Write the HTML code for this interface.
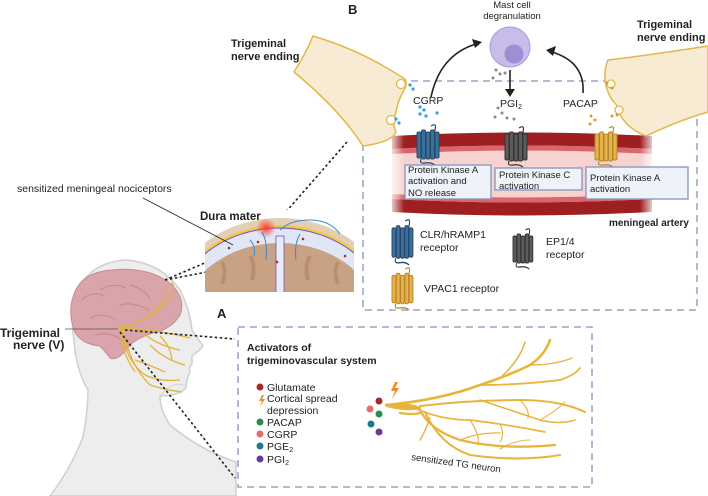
<!DOCTYPE html>
<html><head><meta charset="utf-8"><style>
html,body{margin:0;padding:0;background:#fff}
svg{display:block}
text{font-family:"Liberation Sans",Arial,sans-serif;fill:#222}
.b{font-weight:bold}
</style></head><body>
<svg width="708" height="496" viewBox="0 0 708 496" xmlns="http://www.w3.org/2000/svg">
<defs>
<g id="rec">
 <path d="M14 2 q6 -4 4 4 q-2 6 4 6" fill="none" stroke-width="1.2"/>
 <rect x="0" y="8" width="4" height="26" rx="1.5"/>
 <rect x="4.5" y="6" width="4" height="29" rx="1.5"/>
 <rect x="9" y="8" width="4" height="27" rx="1.5"/>
 <rect x="13.5" y="6" width="4" height="29" rx="1.5"/>
 <rect x="18" y="8" width="4" height="26" rx="1.5"/>
 <path d="M4 35 q-2 5 4 4 q6 -1 10 2" fill="none" stroke-width="1.2"/>
</g>
<linearGradient id="art" x1="0" x2="1" y1="0" y2="0">
 <stop offset="0" stop-color="#fff" stop-opacity="1"/>
 <stop offset="0.06" stop-color="#fff" stop-opacity="0"/>
 <stop offset="0.94" stop-color="#fff" stop-opacity="0"/>
 <stop offset="1" stop-color="#fff" stop-opacity="1"/>
</linearGradient>
<radialGradient id="red"><stop offset="0" stop-color="#ff3030" stop-opacity=".9"/><stop offset="1" stop-color="#ff3030" stop-opacity="0"/></radialGradient>
</defs>

<!-- Box B -->
<rect x="363" y="81" width="334" height="229" fill="none" stroke="#8593b8" stroke-width="1.3" stroke-dasharray="7,5"/>
<text x="348" y="14" class="b" font-size="13">B</text>

<!-- artery -->
<rect x="392" y="137" width="260" height="74" fill="#f6d3d0"/>
<path d="M392 136 Q520 129 652 136 L652 149 Q520 142 392 149Z" fill="#9e1f22"/>
<path d="M392 149 Q520 142 652 149 L652 154 Q520 147 392 154Z" fill="#d9666a"/>
<path d="M392 199 Q520 206 652 199 L652 212 Q520 219 392 212Z" fill="#9e1f22"/>
<path d="M392 194 Q520 201 652 194 L652 199 Q520 206 392 199Z" fill="#d9666a"/>
<rect x="388" y="128" width="268" height="94" fill="url(#art)"/>

<!-- nerve endings -->
<path d="M313 36 Q360 50 400 76 Q410 80 404 90 Q398 100 396 112 Q392 124 396 132 Q392 142 363 146 Q340 110 294 72 Q305 55 313 36Z" fill="#f7ecd3" stroke="#e3b64a" stroke-width="1.5"/>
<circle cx="401" cy="84" r="4.5" fill="#fff" stroke="#e3b64a" stroke-width="1.3"/>
<circle cx="391" cy="120" r="4.5" fill="#fff" stroke="#e3b64a" stroke-width="1.3"/>
<path d="M708 46 Q650 55 608 60 Q600 80 612 100 Q620 108 618 110 Q625 128 646 136 Q680 120 708 112Z" fill="#f7ecd3" stroke="#e3b64a" stroke-width="1.5"/>
<circle cx="611" cy="84" r="4" fill="#fff" stroke="#e3b64a" stroke-width="1.3"/>
<circle cx="619" cy="110" r="4" fill="#fff" stroke="#e3b64a" stroke-width="1.3"/>
<text x="231" y="47" class="b" font-size="11">Trigeminal</text>
<text x="231" y="60" class="b" font-size="11">nerve ending</text>
<text x="637" y="28" class="b" font-size="11">Trigeminal</text>
<text x="637" y="41" class="b" font-size="11">nerve ending</text>

<!-- mast cell -->
<circle cx="510" cy="47" r="20" fill="#c8bde8" stroke="#a79ad8" stroke-width="1"/>
<circle cx="514" cy="54" r="9.5" fill="#9d8fd4"/>
<text x="512" y="8" font-size="9.5" text-anchor="middle" fill="#444">Mast cell</text>
<text x="512" y="19" font-size="9.5" text-anchor="middle" fill="#444">degranulation</text>
<g fill="#888"><circle cx="496" cy="70" r="1.5"/><circle cx="500" cy="74" r="1.5"/><circle cx="493" cy="78" r="1.5"/><circle cx="505" cy="73" r="1.5"/><circle cx="498" cy="108" r="1.5"/><circle cx="502" cy="113" r="1.5"/><circle cx="507" cy="118" r="1.5"/><circle cx="514" cy="119" r="1.5"/><circle cx="495" cy="117" r="1.5"/></g>
<g fill="none" stroke="#222" stroke-width="1.6">
<path d="M431 97 Q440 55 476 44"/>
<path d="M510 70 L510 92"/>
<path d="M583 93 Q585 62 552 52"/>
</g>
<path d="M482 42 L472 39 L475 48Z" fill="#222"/>
<path d="M510 97 L505 89 L515 89Z" fill="#222"/>
<path d="M546 50 L556 46 L553 56Z" fill="#222"/>

<text x="413" y="104" font-size="10.5">CGRP</text>
<text x="500" y="107" font-size="10.5">PGI<tspan font-size="7" dy="2">2</tspan></text>
<text x="563" y="107" font-size="10.5">PACAP</text>
<g fill="#2aa5dc"><circle cx="410" cy="85" r="1.6"/><circle cx="413" cy="89" r="1.6"/><circle cx="396" cy="119" r="1.6"/><circle cx="399" cy="123" r="1.6"/><circle cx="420" cy="107" r="1.6"/><circle cx="424" cy="110" r="1.6"/><circle cx="420" cy="114" r="1.6"/><circle cx="426" cy="116" r="1.6"/><circle cx="437" cy="113" r="1.6"/></g>
<g fill="#d99a2b"><circle cx="607" cy="83" r="1.5"/><circle cx="612" cy="88" r="1.5"/><circle cx="591" cy="116" r="1.5"/><circle cx="595" cy="120" r="1.5"/><circle cx="590" cy="124" r="1.5"/><circle cx="612" cy="116" r="1.5"/><circle cx="617" cy="115" r="1.5"/></g>

<use href="#rec" transform="translate(417,124)" fill="#3b6f9c" stroke="#24476a"/>
<use href="#rec" transform="translate(505,126)" fill="#5b5b5d" stroke="#333"/>
<use href="#rec" transform="translate(595,126)" fill="#e8b24a" stroke="#b5852a"/>

<g fill="#eef2f9" stroke="#8594bd" stroke-width="1.3">
<rect x="405" y="165" width="86" height="34"/>
<rect x="495" y="168" width="87" height="22"/>
<rect x="586" y="167" width="102" height="32"/>
</g>
<g font-size="9.5" fill="#333">
<text x="408" y="173">Protein Kinase A</text>
<text x="408" y="184">activation and</text>
<text x="408" y="196">NO release</text>
<text x="499" y="178">Protein Kinase C</text>
<text x="499" y="189">activation</text>
<text x="590" y="181">Protein Kinase A</text>
<text x="590" y="192">activation</text>
</g>
<text x="689" y="226" class="b" font-size="10" text-anchor="end">meningeal artery</text>

<use href="#rec" transform="translate(392,219) scale(0.95,1.12)" fill="#3b6f9c" stroke="#24476a"/>
<text x="420" y="238" font-size="10.5">CLR/hRAMP1</text>
<text x="420" y="251" font-size="10.5">receptor</text>
<use href="#rec" transform="translate(513,228) scale(0.9,1)" fill="#5b5b5d" stroke="#333"/>
<text x="546" y="245" font-size="10.5">EP1/4</text>
<text x="546" y="258" font-size="10.5">receptor</text>
<use href="#rec" transform="translate(392,267) scale(0.95,1.05)" fill="#e8b24a" stroke="#b5852a"/>
<text x="424" y="292" font-size="10.5">VPAC1 receptor</text>

<!-- Head -->
<path d="M50 496 Q70 470 83 437 Q88 410 88 390 Q76 370 74 340 Q68 300 80 285 Q95 262 125 260 Q160 262 180 290 Q190 310 192 330 L203 346 Q198 352 192 356 L192 364 Q188 368 190 372 Q186 380 186 388 Q178 396 160 396 Q160 410 170 425 Q200 450 236 462 L236 496Z" fill="#ededee" stroke="#cfcfd3" stroke-width="1.5"/>
<path d="M160 396 Q172 380 186 386" fill="none" stroke="#d6d6d8"/>
<path d="M73 297 Q80 272 112 270 Q150 266 172 285 Q186 300 180 315 Q172 328 157 332 Q140 336 130 345 Q118 362 110 358 Q104 350 100 346 Q80 344 74 330 Q68 312 73 297Z" fill="#d9a5aa" stroke="#c98a91" stroke-width="1"/>
<path d="M82 300 q10 -10 22 -4 M100 290 q12 -8 26 -2 M130 285 q14 4 20 14 M90 318 q14 -6 26 2 M120 305 q14 -4 30 6 M95 335 q15 -4 25 4" fill="none" stroke="#c48890" stroke-width="1"/>
<g fill="none" stroke="#e3b33c" stroke-width="1.3">
<path d="M122 328 Q150 320 170 300 Q176 290 172 282"/>
<path d="M150 316 Q165 300 168 290"/>
<path d="M122 328 Q160 330 190 338"/>
<path d="M140 330 Q155 345 180 350"/>
<path d="M122 330 Q125 360 145 375 Q160 382 180 380"/>
<path d="M125 335 Q130 365 150 385 Q165 390 182 392"/>
<path d="M122 332 Q120 350 135 372"/>
<path d="M150 345 Q165 360 185 365"/>
<path d="M160 336 Q170 345 172 360"/>
<path d="M135 360 Q150 365 165 372"/>
</g>
<circle cx="122" cy="328" r="3" fill="#e3b33c"/>
<text x="0" y="337" class="b" font-size="12">Trigeminal</text>
<text x="13" y="349" class="b" font-size="12">nerve (V)</text>
<line x1="65" y1="329" x2="118" y2="329" stroke="#555" stroke-width="0.8"/>

<g stroke="#222" stroke-width="1.6" stroke-dasharray="2.5,2.5" fill="none">
<line x1="125" y1="330" x2="235" y2="339"/>
<line x1="120" y1="332" x2="235" y2="478"/>
<line x1="165" y1="280" x2="207" y2="262"/>
<line x1="165" y1="280" x2="207" y2="272"/>
<line x1="347" y1="142" x2="271" y2="229"/>
<line x1="350" y1="214" x2="268" y2="225"/>
</g>

<!-- Dura inset -->
<clipPath id="dc"><rect x="205" y="210" width="149" height="82"/></clipPath>
<g clip-path="url(#dc)">
<rect x="205" y="210" width="149" height="82" fill="#fff"/>
<ellipse cx="280" cy="320" rx="115" ry="102" fill="#e2cfb4"/>
<ellipse cx="280" cy="320" rx="110" ry="95" fill="#f0c94a"/>
<ellipse cx="280" cy="320" rx="108" ry="92" fill="#dfe6f6" stroke="#7a4fb0" stroke-width="1"/>
<ellipse cx="280" cy="325" rx="100" ry="82" fill="#c9a283"/>
<rect x="276" y="236" width="8" height="60" fill="#e8ecf8" stroke="#7a4fb0" stroke-width="0.8"/>
<path d="M222 262 q5 10 0 22 M250 256 q6 10 2 24 M310 256 q-6 10 -2 24 M338 262 q-5 10 0 22" stroke="#b98f70" stroke-width="4" fill="none"/>
<path d="M262 232 q6 10 4 28 M300 234 q-6 10 -4 26 M250 240 q6 6 4 16" stroke="#3a8cc8" stroke-width="1" fill="none"/>
<path d="M280 230 q10 -10 30 -10 q20 0 30 14" stroke="#3a8cc8" stroke-width="1" fill="none"/>
<circle cx="266" cy="228" r="10" fill="url(#red)"/>
<g fill="#c02020"><circle cx="258" cy="242" r="1.3"/><circle cx="229" cy="248" r="1.3"/><circle cx="303" cy="239" r="1.3"/><circle cx="277" cy="262" r="1.3"/><circle cx="345" cy="256" r="1.3"/></g>
</g>
<text x="200" y="220" class="b" font-size="11.5">Dura mater</text>
<text x="17" y="192" font-size="10.5" fill="#333">sensitized meningeal nociceptors</text>
<line x1="143" y1="198" x2="233" y2="245" stroke="#222" stroke-width="0.8"/>

<!-- Box A -->
<text x="217" y="318" class="b" font-size="13">A</text>
<rect x="238" y="327" width="354" height="160" fill="none" stroke="#8593b8" stroke-width="1.3" stroke-dasharray="7,5"/>
<text x="247" y="351" class="b" font-size="10.5">Activators of</text>
<text x="247" y="364" class="b" font-size="10.5">trigeminovascular system</text>
<g font-size="10.5" fill="#333">
<circle cx="260" cy="387" r="3.5" fill="#a52a2a"/><text x="267" y="391">Glutamate</text>
<path d="M262 395 l-3 6 h3 l-2 6 l5 -8 h-3 l2 -4z" fill="#f08a24"/>
<text x="267" y="402">Cortical spread</text>
<text x="267" y="414">depression</text>
<circle cx="260" cy="422" r="3.5" fill="#2e8b4a"/><text x="267" y="426">PACAP</text>
<circle cx="260" cy="434" r="3.5" fill="#e86a6a"/><text x="267" y="438">CGRP</text>
<circle cx="260" cy="446" r="3.5" fill="#1a7a8a"/><text x="267" y="450">PGE<tspan font-size="7" dy="2">2</tspan></text>
<circle cx="260" cy="459" r="3.5" fill="#6a3a9a"/><text x="267" y="463">PGI<tspan font-size="7" dy="2">2</tspan></text>
</g>

<circle cx="379" cy="401" r="3.5" fill="#a52a2a"/>
<circle cx="370" cy="409" r="3.5" fill="#e86a6a"/>
<circle cx="379" cy="414" r="3.5" fill="#2e8b4a"/>
<circle cx="371" cy="424" r="3.5" fill="#1a7a8a"/>
<circle cx="379" cy="432" r="3.5" fill="#6a3a9a"/>
<path d="M395 382 l-4 9 h4 l-3 8 l7 -11 h-4 l3 -6z" fill="#f08a24"/>
<path d="M386 404 Q410 401 422 408 Q412 413 386 407Z" fill="#e8b43c"/>
<g fill="none" stroke="#e8b43c" stroke-linecap="round">
<path d="M386 405 Q440 400 480 385 Q510 375 530 365 Q545 355 550 340" stroke-width="2.6"/>
<path d="M480 385 Q520 385 560 380 Q575 375 580 368" stroke-width="1.8"/>
<path d="M500 378 Q520 360 525 342" stroke-width="1.5"/>
<path d="M530 365 Q555 365 572 358" stroke-width="1.4"/>
<path d="M420 406 Q470 400 520 400 Q560 400 585 412" stroke-width="2"/>
<path d="M480 400 Q510 410 540 420 Q560 425 575 420" stroke-width="1.5"/>
<path d="M415 408 Q440 420 470 420 Q510 425 545 432" stroke-width="1.7"/>
<path d="M420 410 Q430 430 460 440 Q500 450 555 445" stroke-width="2.3"/>
<path d="M425 412 Q440 445 470 455 Q520 462 560 455" stroke-width="2.1"/>
<path d="M470 420 Q480 435 478 445" stroke-width="1.2"/>
<path d="M500 424 Q505 435 500 442" stroke-width="1.2"/>
<path d="M520 400 Q530 410 528 418" stroke-width="1.2"/>
<path d="M430 418 Q425 432 420 440" stroke-width="1.4"/>
<path d="M400 413 Q412 415 420 413" stroke-width="2.2"/>
<path d="M460 440 Q480 432 500 433" stroke-width="1.2"/>
<path d="M540 420 Q555 412 565 402" stroke-width="1.1"/>
<path d="M500 449 Q515 440 530 440" stroke-width="1.1"/>
</g>
<text x="411" y="460" font-size="9.5" fill="#333" transform="rotate(8 411 460)">sensitized TG neuron</text>
</svg>
</body></html>
